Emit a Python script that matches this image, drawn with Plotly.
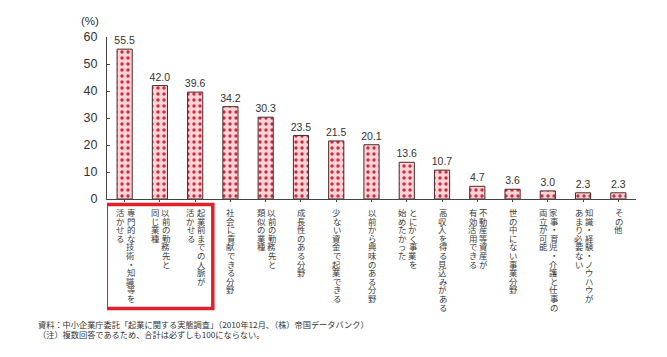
import plotly.graph_objects as go

# ---- data ----
categories = [
    "専門的な技術・知識等を|活かせる",
    "以前の勤務先と|同じ業種",
    "起業前までの人脈が|活かせる",
    "社会に貢献できる分野",
    "以前の勤務先と|類似の業種",
    "成長性のある分野",
    "少ない資金で起業できる",
    "以前から興味のある分野",
    "とにかく事業を|始めたかった",
    "高収入を得る見込みがある",
    "不動産等資産が|有効活用できる",
    "世の中にない事業分野",
    "家事・育児・介護と仕事の|両立が可能",
    "知識・経験・ノウハウが|あまり必要ない",
    "その他",
]
values = [55.5, 42.0, 39.6, 34.2, 30.3, 23.5, 21.5, 20.1, 13.6, 10.7, 4.7, 3.6, 3.0, 2.3, 2.3]
y_ticks = [0, 10, 20, 30, 40, 50, 60]
unit_label = "(%)"
source_note = "資料：中小企業庁委託「起業に関する実態調査」（2010年12月、（株）帝国データバンク）"
note = "（注）複数回答であるため、合計は必ずしも100にならない。"

JP = "Noto Sans CJK JP"
TXT = "#333333"

x_idx = list(range(len(categories)))
labels = [f"{v:.1f}" for v in values]

fig = go.Figure()
fig.add_trace(go.Bar(
    x=x_idx, y=values, width=0.43,
    text=labels, textposition="outside", cliponaxis=False, constraintext="none",
    textfont=dict(family="Liberation Sans, Arial", size=10.5, color=TXT),
    marker=dict(
        color="#fcd4d8",
        line=dict(color="#4a2a2a", width=1),
        pattern=dict(shape=".", fgcolor="#d02a3c", bgcolor="#fcd4d8",
                     size=6, solidity=0.25, fillmode="replace"),
    ),
    hoverinfo="skip",
))

# vertical Japanese category labels (one annotation per character)
annotations = []
step = 8.6
start = 13
for i, cat in enumerate(categories):
    cols = cat.split("|")
    offsets = [0.5] if len(cols) == 1 else [6, -4.5]
    for j, col in enumerate(cols):
        for k, ch in enumerate(col):
            annotations.append(dict(
                x=i, y=0, xref="x", yref="y", text=ch, showarrow=False,
                xshift=offsets[j], yshift=-(start + k * step), borderpad=0,
                font=dict(family=JP, size=8.4, color="#3a3a3a"),
                xanchor="center", yanchor="middle",
            ))

annotations.append(dict(
    x=-0.032, y=1.1, xref="paper", yref="paper", text=unit_label, showarrow=False,
    font=dict(family="Liberation Sans, Arial", size=11.5, color=TXT),
    xanchor="center", yanchor="middle",
))
annotations.append(dict(
    x=-0.134, y=-0.772, xref="paper", yref="paper", text=source_note, showarrow=False,
    font=dict(family=JP, size=8.2, color=TXT), xanchor="left", yanchor="middle",
))
annotations.append(dict(
    x=-0.134, y=-0.834, xref="paper", yref="paper", text=note, showarrow=False,
    font=dict(family=JP, size=8.2, color=TXT), xanchor="left", yanchor="middle",
))

shapes = [dict(
    type="rect", xref="x", yref="paper", x0=-0.52, x1=2.5, y0=-0.034, y1=-0.676,
    line=dict(color="#e3202a", width=3.5), fillcolor="rgba(0,0,0,0)", layer="above",
)]

fig.update_layout(
    width=667, height=357,
    margin=dict(l=107, r=31, t=37, b=158),
    paper_bgcolor="white", plot_bgcolor="white",
    showlegend=False,
    annotations=annotations,
    shapes=shapes,
    xaxis=dict(
        range=[-0.5, len(categories) - 0.5],
        tickvals=x_idx, ticktext=[""] * len(categories),
        showline=True, linecolor="#444444", linewidth=1,
        ticks="outside", ticklen=2, tickcolor="#444444",
        tickson="boundaries", showgrid=False, zeroline=False, fixedrange=True,
    ),
    yaxis=dict(
        range=[0, 60], tickvals=y_ticks,
        showline=True, linecolor="#444444", linewidth=1,
        ticks="inside", ticklen=3, tickcolor="#444444",
        showgrid=False, zeroline=False, fixedrange=True,
        tickfont=dict(family="Liberation Sans, Arial", size=12.5, color=TXT),
        ticklabelstandoff=6,
    ),
)

fig.write_html("out.html", config={"displayModeBar": False},
               post_script="document.body.style.margin='0px';")
